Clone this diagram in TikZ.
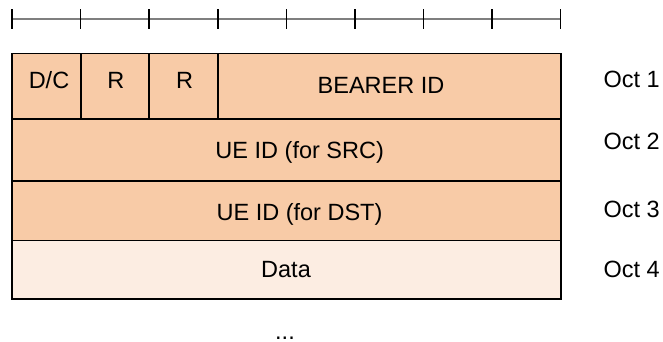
\documentclass[tikz,border=0pt]{standalone}
\usepackage{fontspec}
\setmainfont{Liberation Sans}
\definecolor{peach}{HTML}{F8CBA7}
\definecolor{peachlight}{HTML}{FCEDE2}
\definecolor{rulergray}{HTML}{7F7F7F}
\begin{document}
\begin{tikzpicture}[x=1pt,y=-1pt,
  cell/.style={draw=black, line width=1.8pt, fill=peach, inner sep=0pt, outer sep=0pt},
  lightcell/.style={cell, fill=peachlight},
  txt/.style={font=\fontsize{23.5}{28}\selectfont, inner sep=0pt, anchor=base},
  octtxt/.style={txt, anchor=base west},
  tickmark/.style={draw=black, line width=1.5pt},
  rulerline/.style={draw=rulergray, line width=1.5pt}]
\useasboundingbox (0,0) rectangle (663,341);
% ruler
\coordinate (r0) at (12,19);
\coordinate (r8) at (560.7,19);
\draw[rulerline] (r0) -- (r8);
\foreach \i in {0,...,8}{
  \coordinate (t\i top) at ({12+68.5875*\i},9);
  \coordinate (t\i bot) at ({12+68.5875*\i},28.5);
  \draw[tickmark] (t\i top) -- (t\i bot);
}
% row 1
\node[cell, minimum width=68.7pt, minimum height=65.5pt] (dc) at (46.35,86.25) {};
\node[cell, minimum width=68.6pt, minimum height=65.5pt] (r1) at (115.0,86.25) {};
\node[cell, minimum width=68.7pt, minimum height=65.5pt] (r2) at (183.65,86.25) {};
\node[cell, minimum width=342.7pt, minimum height=65.5pt] (bid) at (389.35,86.25) {};
% rows 2-4
\node[cell, minimum width=548.7pt, minimum height=62pt] (src) at (286.35,150) {};
\node[cell, minimum width=548.7pt, minimum height=59.5pt] (dst) at (286.35,210.75) {};
\node[lightcell, minimum width=548.7pt, minimum height=58.8pt] (data) at (286.35,269.9) {};
% texts
\node[txt] (tdc) at (49,88.1) {D/C};
\node[txt] (tr1) at (115.8,88.1) {R};
\node[txt] (tr2) at (184.5,88.1) {R};
\node[txt] (tbid) at (381,93.1) {BEARER ID};
\node[txt] (tsrc) at (299.7,158.7) {UE ID (for SRC)};
\node[txt] (tdst) at (299.5,220.1) {UE ID (for DST)};
\node[txt] (tdata) at (286,277.1) {Data};
\node[octtxt] (o1) at (603.3,87.1) {Oct 1};
\node[octtxt] (o2) at (603.3,149.4) {Oct 2};
\node[octtxt] (o3) at (603.3,217.1) {Oct 3};
\node[octtxt] (o4) at (603.3,277.1) {Oct 4};
\node[txt] (dots) at (285,339.5) {...};
\end{tikzpicture}
\end{document}
